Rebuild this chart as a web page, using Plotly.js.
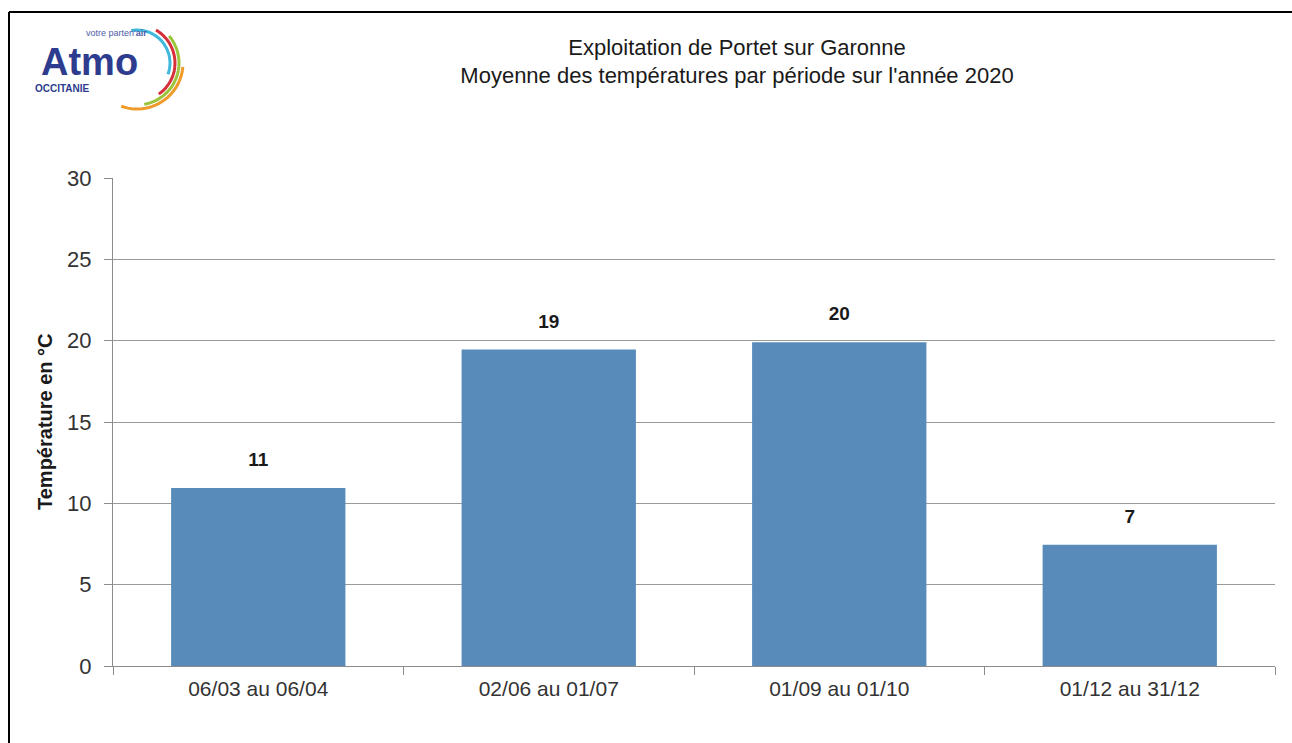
<!DOCTYPE html>
<html>
<head>
<meta charset="utf-8">
<script src="https://cdn.plot.ly/plotly-3.0.1.min.js"></script>
<style>
  html, body { margin: 0; padding: 0; background: #fff; }
  #chart { width: 1292px; height: 743px; }
</style>
</head>
<body>
<div id="chart"></div>
<script>
const periods = ['06/03 au 06/04', '02/06 au 01/07', '01/09 au 01/10', '01/12 au 31/12'];
const meanTemps = [10.95, 19.45, 19.9, 7.45];
const yTicks = [0, 5, 10, 15, 20, 25, 30];

const W = 1292, H = 743;
const margin = { l: 113, r: 17, t: 178, b: 77 };
const plotW = W - margin.l - margin.r;
const plotH = H - margin.t - margin.b;
const FONT = 'Liberation Sans, Arial, sans-serif';

// pixel -> paper coords, for the decorations outside the plot area
function px(x) { return (x - margin.l) / plotW; }
function py(y) { return (H - margin.b - y) / plotH; }

function arcPath(cx, cy, r, a0, a1) {
  const pts = [];
  for (let i = 0; i <= 24; i++) {
    const a = (a0 + (a1 - a0) * i / 24) * Math.PI / 180;
    pts.push(px(cx + r * Math.cos(a)).toFixed(4) + ',' + py(cy + r * Math.sin(a)).toFixed(4));
  }
  return 'M' + pts.join('L');
}

const logoArcs = [
  { r: 33, a0: -100, a1: 20, color: '#3fb8dc' },
  { r: 38, a0: -60, a1: 55, color: '#d62f3a' },
  { r: 42, a0: -40, a1: 80, color: '#9cc43a' },
  { r: 46, a0: 5, a1: 110, color: '#f09a2a' },
];

const shapes = logoArcs.map((a) => ({
  type: 'path', xref: 'paper', yref: 'paper',
  path: arcPath(137, 63, a.r, a.a0, a.a1),
  line: { color: a.color, width: 3 },
}));

// frame lines (top and left)
shapes.push({ type: 'line', xref: 'paper', yref: 'paper', x0: px(9), x1: px(1300), y0: py(12), y1: py(12), line: { color: '#000', width: 2 } });
shapes.push({ type: 'line', xref: 'paper', yref: 'paper', x0: px(9), x1: px(9), y0: py(12), y1: py(760), line: { color: '#000', width: 2 } });

function note(text, x, y, size, color, extra) {
  return Object.assign({
    text: text, xref: 'paper', yref: 'paper', x: px(x), y: py(y),
    xanchor: 'center', yanchor: 'middle', showarrow: false,
    font: { family: FONT, size: size, color: color },
  }, extra || {});
}

const annotations = [
  note('<b>Température en °C</b>', 45, 422, 20, '#1a1a1a', { textangle: -90 }),
  note('<b>Atmo</b>', 89, 62, 38, '#2d3c8e'),
  note("votre parten'<b>air</b>", 116, 33, 9, '#4c5ba8'),
  note('<b>OCCITANIE</b>', 62, 88, 10, '#2d3c8e'),
];

const bars = {
  type: 'bar',
  x: periods,
  y: meanTemps,
  width: 0.6,
  marker: { color: '#588bba' },
  hoverinfo: 'x+y',
};

// value labels above the bars
const labels = {
  type: 'scatter',
  mode: 'markers+text',
  x: periods,
  y: meanTemps,
  marker: { size: 26, opacity: 0 },
  texttemplate: '<b>%{y:.0f}</b>',
  textposition: 'top center',
  textfont: { family: FONT, size: 19, color: '#1a1a1a' },
  cliponaxis: false,
  hoverinfo: 'skip',
};

const layout = {
  width: W, height: H,
  margin: margin,
  paper_bgcolor: '#fff',
  plot_bgcolor: '#fff',
  showlegend: false,
  title: {
    text: 'Exploitation de Portet sur Garonne<br>Moyenne des températures par période sur l\'année 2020',
    x: 737 / W, xanchor: 'center',
    y: 1 - 54.5 / H, yanchor: 'middle',
    font: { family: FONT, size: 22, color: '#1a1a1a' },
  },
  xaxis: {
    type: 'category',
    showline: true, linecolor: '#8c8c8c', linewidth: 1,
    ticks: 'outside', tickson: 'boundaries', ticklen: 8, tickcolor: '#8c8c8c',
    ticklabelstandoff: 4,
    tickfont: { family: FONT, size: 21, color: '#333' },
    showgrid: false,
  },
  yaxis: {
    range: [0, 30],
    tickvals: yTicks,
    showline: true, linecolor: '#8c8c8c', linewidth: 1,
    ticks: 'outside', ticklen: 8, tickcolor: '#8c8c8c',
    ticklabelstandoff: 8,
    tickfont: { family: FONT, size: 22, color: '#333' },
    showgrid: true, gridcolor: '#9a9a9a', gridwidth: 1,
    zeroline: false,
  },
  shapes: shapes,
  annotations: annotations,
};

Plotly.newPlot('chart', [bars, labels], layout, { staticPlot: true });
</script>
</body>
</html>
